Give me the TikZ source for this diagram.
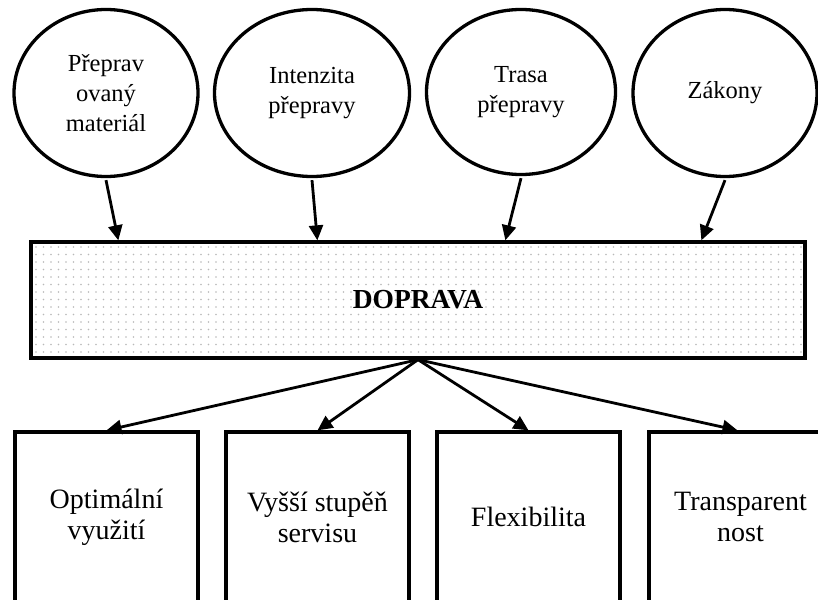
\documentclass[tikz,border=0pt]{standalone}
\usepackage{fontspec}
\setmainfont{Liberation Serif}
\usetikzlibrary{shapes.geometric,arrows.meta}
\tikzset{
  circ/.style={draw, ellipse, line width=3.3pt, inner sep=0pt, align=center,
    font=\fontsize{24.5}{30}\selectfont},
  outbox/.style={draw, rectangle, line width=3.3pt, inner sep=0pt, align=center,
    minimum width=183pt, minimum height=170pt, font=\fontsize{28}{31}\selectfont},
  arr/.style={line width=2.8pt, -{Triangle[length=15pt,width=14pt]}},
}
\begin{document}
\begin{tikzpicture}[x=1pt,y=-1pt]
\useasboundingbox (0,0) rectangle (818,599);
\fill[white] (0,0) rectangle (818,599);
% top ellipses
\node[circ, minimum width=184pt, minimum height=167pt] (c1) at (106,93) {Přeprav\\ovaný\\materiál};
\node[circ, minimum width=195pt, minimum height=167pt] (c2) at (312,93) {Intenzita\\přepravy};
\node[circ, minimum width=189pt, minimum height=165pt] (c3) at (521,92) {Trasa\\přepravy};
\node[circ, minimum width=184pt, minimum height=167pt] (c4) at (725,93) {Zákony};
% central box with dotted texture
\fill[white] (31,242) rectangle (805,358);
\foreach \i in {0,...,102}{
  \foreach \j in {0,...,14}{
    \fill[gray!55] ({36+7.5*\i},{247+7.5*\j}) circle (0.95);
  }
}
\node[draw, rectangle, line width=3.3pt, minimum width=774pt, minimum height=116pt,
  font=\fontsize{27.5}{30}\selectfont\bfseries] (dop) at (418,300) {DOPRAVA};
% bottom boxes
\node[outbox] (b1) at (106.5,517) {Optimální\\využití};
\node[outbox] (b2) at (317.5,517) {Vyšší stupěň\\servisu};
\node[outbox] (b3) at (528.5,517) {Flexibilita};
\node[outbox] (b4) at (740.5,517) {Transparent\\nost};
% arrows into DOPRAVA
\draw[arr] ([yshift=-2pt]c1.south) -- ([xshift=89pt]dop.north west);
\draw[arr] ([yshift=-2pt]c2.south) -- ([xshift=288pt]dop.north west);
\draw[arr] ([yshift=-2pt]c3.south) -- ([xshift=476pt]dop.north west);
\draw[arr] ([yshift=-2pt]c4.south) -- ([xshift=672pt]dop.north west);
% arrows out of DOPRAVA
\draw[arr] (dop.south) -- (b1.north);
\draw[arr] (dop.south) -- (b2.north);
\draw[arr] (dop.south) -- (b3.north);
\draw[arr] (dop.south) -- ([xshift=-3pt]b4.north);
\end{tikzpicture}
\end{document}
